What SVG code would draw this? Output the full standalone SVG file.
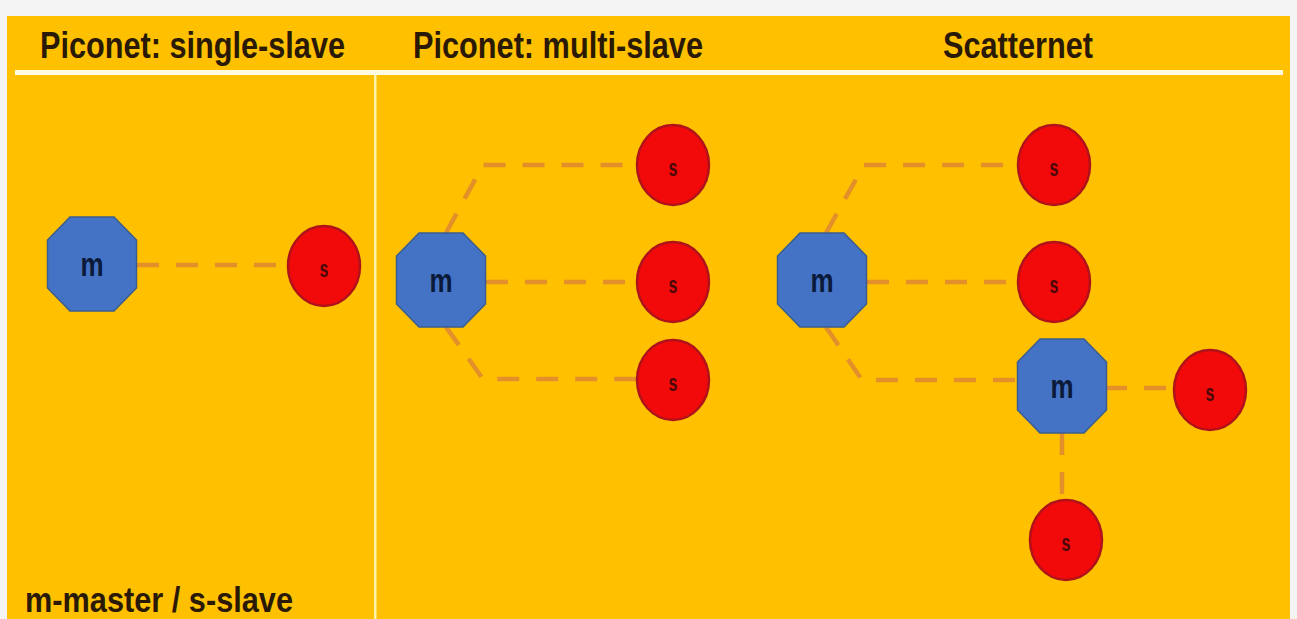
<svg xmlns="http://www.w3.org/2000/svg" xmlns:xlink="http://www.w3.org/1999/xlink" width="1297" height="619" viewBox="0 0 1297 619">
<style>
.title{font-family:"Liberation Sans",Arial,sans-serif;font-weight:bold;font-size:30px;fill:#2a1a05}
.oct{fill:#4472c4;stroke:#3b5d8f;stroke-width:1.5}
.slave{fill:#f20a0a;stroke:#b0121a;stroke-width:2.5}
.mlab{font-family:"Liberation Sans",Arial,sans-serif;font-weight:bold;font-size:26px;fill:#0c1a3a;text-anchor:middle}
.slab{font-family:"Liberation Sans",Arial,sans-serif;font-weight:bold;font-size:16px;fill:#4a0808;text-anchor:middle}
.link{fill:none;stroke:#e38f2a;stroke-width:4.5;stroke-dasharray:22 17}
</style>
<defs>
<polygon id="octShape" points="-22,-47 22,-47 44.5,-24 44.5,24 22,47 -22,47 -44.5,24 -44.5,-24"/>
</defs>
<rect x="0" y="0" width="1297" height="619" fill="#f4f4f4"/>
<rect x="7" y="16" width="1283" height="603" fill="#ffc000"/>
<rect x="15" y="70" width="1268" height="5" fill="#fffbe0"/>
<rect x="374" y="75" width="2.5" height="544" fill="#fff3a8"/>
<g id="titles">
<text class="title" transform="translate(40,58) scale(1,1.2)" textLength="305" lengthAdjust="spacingAndGlyphs">Piconet: single-slave</text>
<text class="title" transform="translate(413,58) scale(1,1.2)" textLength="290" lengthAdjust="spacingAndGlyphs">Piconet: multi-slave</text>
<text class="title" transform="translate(943,58) scale(1,1.2)" textLength="150" lengthAdjust="spacingAndGlyphs">Scatternet</text>
<text class="title" transform="translate(25,612) scale(1,1.15)" textLength="268" lengthAdjust="spacingAndGlyphs">m-master / s-slave</text>
</g>
<g id="connectors">
<path class="link" d="M137,265 H288"/>
<path class="link" d="M446,233 L483,165 H637"/>
<path class="link" d="M486,282 H637"/>
<path class="link" d="M446,327 L483,379 H637"/>
<path class="link" d="M826,233 L864,165 H1018"/>
<path class="link" d="M867,282 H1018"/>
<path class="link" d="M826,327 L862,380 H1018"/>
<path class="link" d="M1105,388 H1174"/>
<path class="link" d="M1062,433 V500"/>
</g>
<g id="m1"><use xlink:href="#octShape" class="oct" transform="translate(92,264)"/><text class="mlab" transform="translate(92,276) scale(1,1.3)">m</text></g>
<g id="s1"><ellipse class="slave" cx="324" cy="266" rx="36" ry="40"/><text class="slab" transform="translate(324,277) scale(1,1.5)">s</text></g>
<g id="m2"><use xlink:href="#octShape" class="oct" transform="translate(441,280)"/><text class="mlab" transform="translate(441,292) scale(1,1.3)">m</text></g>
<g id="s2a"><ellipse class="slave" cx="673" cy="165" rx="36" ry="40"/><text class="slab" transform="translate(673,176) scale(1,1.5)">s</text></g>
<g id="s2b"><ellipse class="slave" cx="673" cy="282" rx="36" ry="40"/><text class="slab" transform="translate(673,293) scale(1,1.5)">s</text></g>
<g id="s2c"><ellipse class="slave" cx="673" cy="380" rx="36" ry="40"/><text class="slab" transform="translate(673,391) scale(1,1.5)">s</text></g>
<g id="m3"><use xlink:href="#octShape" class="oct" transform="translate(822,280)"/><text class="mlab" transform="translate(822,292) scale(1,1.3)">m</text></g>
<g id="s3a"><ellipse class="slave" cx="1054" cy="165" rx="36" ry="40"/><text class="slab" transform="translate(1054,176) scale(1,1.5)">s</text></g>
<g id="s3b"><ellipse class="slave" cx="1054" cy="282" rx="36" ry="40"/><text class="slab" transform="translate(1054,293) scale(1,1.5)">s</text></g>
<g id="m4"><use xlink:href="#octShape" class="oct" transform="translate(1062,386)"/><text class="mlab" transform="translate(1062,398) scale(1,1.3)">m</text></g>
<g id="s4a"><ellipse class="slave" cx="1210" cy="390" rx="36" ry="40"/><text class="slab" transform="translate(1210,401) scale(1,1.5)">s</text></g>
<g id="s4b"><ellipse class="slave" cx="1066" cy="540" rx="36" ry="40"/><text class="slab" transform="translate(1066,551) scale(1,1.5)">s</text></g>
</svg>
